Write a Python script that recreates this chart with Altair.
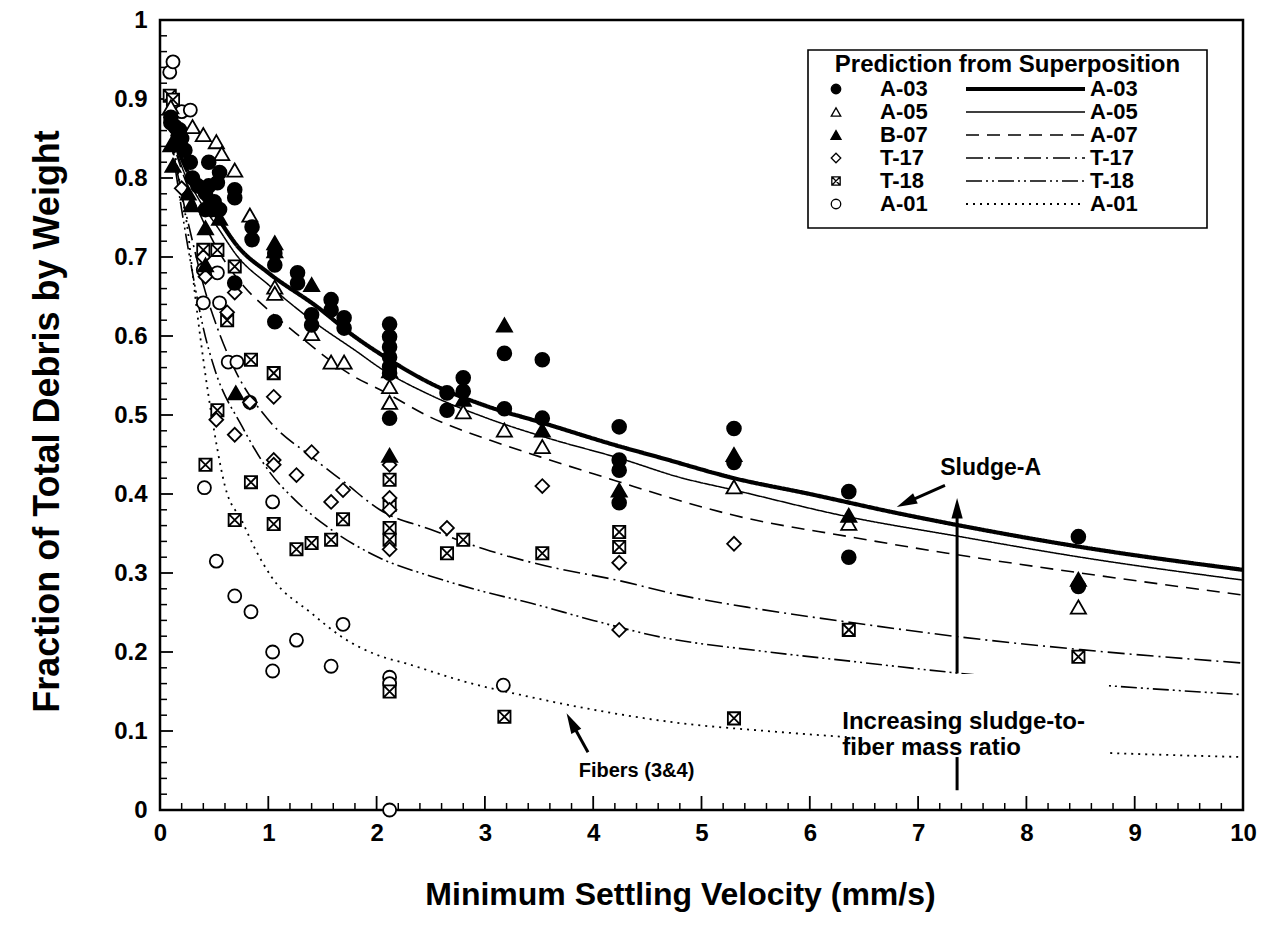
import altair as alt
import pandas as pd

FONT = "Liberation Sans"

a03_x = [0.10, 0.10, 0.14, 0.18, 0.20, 0.23, 0.28, 0.30, 0.35, 0.42, 0.42, 0.45, 0.45, 0.48, 0.50, 0.53, 0.55, 0.55,
         0.69, 0.69, 0.69, 0.85, 0.85, 1.06, 1.06, 1.06, 1.27, 1.27, 1.40, 1.40, 1.58, 1.58, 1.70, 1.70,
         2.12, 2.12, 2.12, 2.12, 2.12, 2.12, 2.12, 2.65, 2.65, 2.80, 2.80, 3.18, 3.18, 3.53, 3.53,
         4.24, 4.24, 4.24, 4.24, 5.30, 5.30, 6.36, 6.36, 8.48, 8.48]
a03_y = [0.877, 0.870, 0.865, 0.861, 0.850, 0.835, 0.820, 0.800, 0.790, 0.781, 0.760, 0.820, 0.790, 0.760, 0.770, 0.794, 0.807, 0.760,
         0.785, 0.775, 0.667, 0.738, 0.722, 0.705, 0.690, 0.618, 0.680, 0.667, 0.627, 0.614, 0.646, 0.633, 0.623, 0.610,
         0.615, 0.599, 0.586, 0.573, 0.561, 0.553, 0.496, 0.528, 0.506, 0.547, 0.530, 0.578, 0.508, 0.570, 0.496,
         0.485, 0.443, 0.430, 0.389, 0.483, 0.440, 0.403, 0.320, 0.346, 0.283]

a05_x = [0.10, 0.30, 0.40, 0.52, 0.57, 0.69, 0.83, 1.06, 1.06, 1.40, 1.58, 1.70, 2.12, 2.12, 2.80, 3.18, 3.53, 5.30, 6.36, 8.48]
a05_y = [0.890, 0.865, 0.855, 0.846, 0.831, 0.810, 0.753, 0.662, 0.654, 0.603, 0.567, 0.567, 0.536, 0.516, 0.504, 0.481, 0.460, 0.409, 0.363, 0.257]

b07_x = [0.10, 0.12, 0.26, 0.29, 0.42, 0.42, 0.55, 0.70, 1.06, 1.06, 1.40, 2.12, 2.12, 2.80, 3.18, 3.53, 4.24, 5.30, 6.36, 8.48]
b07_y = [0.842, 0.816, 0.781, 0.766, 0.737, 0.690, 0.749, 0.528, 0.718, 0.708, 0.665, 0.556, 0.449, 0.520, 0.614, 0.481, 0.405, 0.450, 0.373, 0.292]

t17_x = [0.20, 0.40, 0.42, 0.52, 0.62, 0.69, 0.69, 0.83, 1.05, 1.05, 1.05, 1.26, 1.40, 1.58, 1.69, 2.12, 2.12, 2.12, 2.12, 2.65, 3.53, 4.24, 4.24, 5.30]
t17_y = [0.787, 0.700, 0.675, 0.494, 0.630, 0.655, 0.475, 0.516, 0.523, 0.443, 0.437, 0.424, 0.453, 0.390, 0.405, 0.437, 0.395, 0.380, 0.330, 0.357, 0.410, 0.313, 0.228, 0.337]

t18_x = [0.09, 0.12, 0.40, 0.42, 0.53, 0.53, 0.62, 0.69, 0.69, 0.84, 0.84, 1.05, 1.05, 1.26, 1.40, 1.58, 1.69,
         2.12, 2.12, 2.12, 2.12, 2.12, 2.65, 2.80, 3.18, 3.53, 4.24, 4.24, 5.30, 6.36, 8.48]
t18_y = [0.904, 0.899, 0.709, 0.437, 0.709, 0.506, 0.620, 0.688, 0.367, 0.570, 0.415, 0.553, 0.362, 0.330, 0.338, 0.342, 0.368,
         0.418, 0.386, 0.357, 0.342, 0.150, 0.325, 0.342, 0.118, 0.325, 0.352, 0.333, 0.116, 0.228, 0.194]

a01_x = [0.09, 0.12, 0.20, 0.28, 0.40, 0.40, 0.41, 0.52, 0.53, 0.55, 0.63, 0.69, 0.71, 0.83, 0.84, 1.04, 1.04, 1.04, 1.26, 1.58, 1.69, 2.12, 2.12, 2.12, 3.17]
a01_y = [0.934, 0.947, 0.884, 0.886, 0.684, 0.642, 0.408, 0.315, 0.680, 0.642, 0.567, 0.271, 0.567, 0.516, 0.251, 0.390, 0.200, 0.176, 0.215, 0.182, 0.235, 0.168, 0.160, 0.000, 0.158]

# ---------------- prediction curves ----------------
c_a03_x = [0.1, 0.2, 0.35, 0.53, 0.72, 1.0, 1.45, 1.8, 2.06, 2.5, 3.0, 3.51, 4.25, 4.62, 5.3, 6.0, 6.8, 7.39, 8.5, 10]
c_a03_y = [0.865, 0.825, 0.785, 0.75, 0.713, 0.68, 0.637, 0.599, 0.575, 0.54, 0.512, 0.491, 0.46, 0.446, 0.42, 0.40, 0.376, 0.36, 0.333, 0.304]

c_a05_x = [0.1, 0.2, 0.35, 0.53, 0.72, 1.0, 1.45, 1.8, 2.06, 2.5, 3.0, 3.6, 4.25, 4.8, 5.3, 6.36, 7.39, 8.5, 10]
c_a05_y = [0.86, 0.815, 0.775, 0.738, 0.70, 0.665, 0.615, 0.582, 0.557, 0.525, 0.497, 0.47, 0.445, 0.421, 0.405, 0.371, 0.346, 0.32, 0.291]

c_a07_x = [0.1, 0.2, 0.35, 0.53, 0.78, 1.0, 1.25, 1.8, 2.06, 2.5, 3.05, 3.51, 4.25, 4.62, 5.3, 6.36, 7.27, 8.5, 10]
c_a07_y = [0.855, 0.81, 0.76, 0.71, 0.662, 0.633, 0.604, 0.548, 0.53, 0.497, 0.468, 0.447, 0.415, 0.399, 0.373, 0.346, 0.325, 0.30, 0.272]

c_t17_x = [0.1, 0.2, 0.3, 0.4, 0.53, 0.7, 1.0, 1.4, 1.71, 2.03, 2.5, 3.0, 3.5, 4.25, 4.8, 5.5, 6.4, 7.39, 8.5, 10]
c_t17_y = [0.85, 0.78, 0.72, 0.665, 0.61, 0.555, 0.494, 0.447, 0.414, 0.38, 0.355, 0.33, 0.311, 0.29, 0.272, 0.255, 0.237, 0.219, 0.203, 0.186]

c_t18_x = [0.1, 0.2, 0.3, 0.4, 0.5, 0.76, 1.0, 1.25, 1.55, 2.03, 2.5, 3.0, 3.42, 4.0, 4.62, 5.5, 6.4, 7.39, 8.5, 10]
c_t18_y = [0.85, 0.76, 0.68, 0.61, 0.56, 0.485, 0.43, 0.392, 0.358, 0.319, 0.296, 0.276, 0.262, 0.24, 0.219, 0.202, 0.188, 0.173, 0.16, 0.146]

c_a01_x = [0.1, 0.2, 0.26, 0.3, 0.4, 0.5, 0.6, 0.76, 0.88, 1.03, 1.4, 1.68, 2.03, 2.26, 2.8, 3.42, 4.0, 4.8, 5.6, 6.46, 7.5, 8.8, 10]
c_a01_y = [0.86, 0.78, 0.73, 0.68, 0.57, 0.48, 0.41, 0.365, 0.33, 0.295, 0.249, 0.219, 0.195, 0.186, 0.163, 0.143, 0.127, 0.11, 0.10, 0.091, 0.08, 0.072, 0.067]

marker_labels = ["A-03", "A-05", "B-07", "T-17", "T-18", "A-01"]
line_labels = ["A-03", "A-05", "A-07", "T-17", "T-18", "A-01"]
x_tick_values = list(range(0, 11))
y_tick_values = [round(0.1 * i, 1) for i in range(11)]

# ---------------- layout constants ----------------
W, H = 1083, 790
BOX_PATH = "M-1,-1L1,-1L1,1L-1,1Z M-1,-1L1,1 M-1,1L1,-1"
ARROW_PATH = "M0,-1L0.55,1L-0.55,1Z"

xscale = alt.Scale(domain=[0, 10], nice=False, zero=False)
yscale = alt.Scale(domain=[0, 1], nice=False, zero=False)
xaxis = alt.Axis(values=x_tick_values, title="Minimum Settling Velocity (mm/s)", grid=False, ticks=False, domain=False,
                 labelFont=FONT, labelFontSize=24, labelFontWeight="bold", labelColor="black", labelPadding=11,
                 labelFlush=False, labelOverlap=False,
                 titleFont=FONT, titleFontSize=32, titleFontWeight="bold", titleColor="black",
                 titleX=520, titleY=94, titleAlign="center", titleBaseline="alphabetic")
yaxis = alt.Axis(values=y_tick_values, title="Fraction of Total Debris by Weight", grid=False, ticks=False, domain=False,
                 labelExpr="datum.value == 0 ? '0' : datum.value == 1 ? '1' : format(datum.value, '.1f')",
                 labelFont=FONT, labelFontSize=24, labelFontWeight="bold", labelColor="black", labelPadding=13,
                 labelFlush=False, labelOverlap=False,
                 titleFont=FONT, titleFontSize=36, titleFontWeight="bold", titleColor="black",
                 titleX=-102, titleY=401, titleAlign="center", titleBaseline="alphabetic", titleAngle=270)


def X(f="x"):
    return alt.X(f + ":Q", scale=xscale, axis=xaxis)


def Y(f="y"):
    return alt.Y(f + ":Q", scale=yscale, axis=yaxis)


dummy = pd.DataFrame({"d": [0]})
layers = []

# inward ticks
xt = pd.DataFrame({"x": [round(0.2 * i, 1) for i in range(1, 50)]})
xt["major"] = (xt["x"] % 1 == 0)
layers.append(alt.Chart(xt[~xt["major"]]).mark_rule(color="black", strokeWidth=1.5).encode(
    x=X(), y=alt.value(H), y2=alt.value(H - 7)))
layers.append(alt.Chart(xt[xt["major"]]).mark_rule(color="black", strokeWidth=1.8).encode(
    x=X(), y=alt.value(H), y2=alt.value(H - 14)))
yt = pd.DataFrame({"y": [round(0.02 * i, 2) for i in range(1, 50)]})
yt["major"] = ((yt["y"] * 100).round() % 10 == 0)
layers.append(alt.Chart(yt[~yt["major"]]).mark_rule(color="black", strokeWidth=1.5).encode(
    y=Y(), x=alt.value(0), x2=alt.value(7)))
layers.append(alt.Chart(yt[yt["major"]]).mark_rule(color="black", strokeWidth=1.8).encode(
    y=Y(), x=alt.value(0), x2=alt.value(13)))

# curves
curves = [
    (c_a03_x, c_a03_y, [1, 0], 4.2),
    (c_a05_x, c_a05_y, [1, 0], 1.5),
    (c_a07_x, c_a07_y, [13, 8], 1.6),
    (c_t17_x, c_t17_y, [17, 5, 2, 5], 1.6),
    (c_t18_x, c_t18_y, [16, 4, 2, 4, 2, 4], 1.6),
    (c_a01_x, c_a01_y, [2, 5], 1.8),
]
for cx, cy, dash, sw in curves:
    df = pd.DataFrame({"x": cx, "y": cy})
    layers.append(alt.Chart(df).mark_line(color="black", strokeWidth=sw, strokeDash=dash, interpolate="monotone").encode(
        x=X(), y=Y()))

# white patch behind the annotation text (lines are interrupted there)
patch = pd.DataFrame({"x": [6.46], "x2": [8.76], "y": [0.052], "y2": [0.172]})
layers.append(alt.Chart(patch).mark_rect(color="white").encode(
    x=X(), x2=alt.X2("x2:Q"), y=Y(), y2=alt.Y2("y2:Q")))

# points
pts = [
    (a01_x, a01_y, "circle", False, 170),
    (t18_x, t18_y, BOX_PATH, False, 150),
    (t17_x, t17_y, "diamond", False, 190),
    (a05_x, a05_y, "triangle-up", False, 230),
    (b07_x, b07_y, "triangle-up", True, 230),
    (a03_x, a03_y, "circle", True, 190),
]
for px, py, shape, filled, size in pts:
    df = pd.DataFrame({"x": px, "y": py})
    layers.append(alt.Chart(df).mark_point(shape=shape, filled=True, fill="black" if filled else "white",
                                           fillOpacity=1, opacity=1, stroke="black", strokeWidth=1.8,
                                           size=size).encode(x=X(), y=Y()))

# annotations
arrows = pd.DataFrame({
    "x": [7.248, 7.36, 3.952, 7.36],
    "y": [0.411, 0.173, 0.073, 0.067],
    "x2": [6.889, 7.36, 3.799, 7.36],
    "y2": [0.389, 0.382, 0.111, 0.025],
})
layers.append(alt.Chart(arrows).mark_rule(color="black", strokeWidth=3).encode(
    x=X(), y=Y(), x2=alt.X2("x2:Q"), y2=alt.Y2("y2:Q")))
heads = pd.DataFrame({"x": [6.889, 7.36, 3.799], "y": [0.389, 0.382, 0.111], "a": [245.4, 0, 331.7]})
layers.append(alt.Chart(heads).mark_point(shape=ARROW_PATH, filled=True, color="black", size=420, opacity=1).encode(
    x=X(), y=Y(), angle=alt.Angle("a:Q", scale=None)))

texts = pd.DataFrame({
    "x": [7.67, 6.30, 6.30, 4.40],
    "y": [0.433, 0.112, 0.079, 0.049],
    "t": ["Sludge-A", "Increasing sludge-to-", "fiber mass ratio", "Fibers (3&4)"],
    "fs": [23, 24, 24, 20],
    "al": ["center", "left", "left", "center"],
})
for i in range(len(texts)):
    sub = texts.iloc[[i]]
    layers.append(alt.Chart(sub).mark_text(font=FONT, fontSize=int(sub["fs"].iloc[0]), fontWeight="bold",
                                           color="black", align=sub["al"].iloc[0], baseline="middle").encode(
        x=X(), y=Y(), text="t:N"))

# legend (decoration, pixel positions inside the plot)
LX0, LX1, LY0, LY1 = 648, 1047, 30, 208
layers.append(alt.Chart(dummy).mark_rect(fill="white", stroke="black", strokeWidth=1.6).encode(
    x=alt.value(LX0), x2=alt.value(LX1), y=alt.value(LY0), y2=alt.value(LY1)))
layers.append(alt.Chart(dummy).mark_text(text="Prediction from Superposition", font=FONT, fontSize=24,
                                         fontWeight="bold", color="black", align="center", baseline="middle").encode(
    x=alt.value((LX0 + LX1) / 2), y=alt.value(45)))
leg_shapes = [("circle", True, 90), ("triangle-up", False, 90), ("triangle-up", True, 100),
              ("diamond", False, 90), (BOX_PATH, False, 70), ("circle", False, 90)]
for i in range(6):
    ly = 69 + 23 * i
    shape, filled, size = leg_shapes[i]
    layers.append(alt.Chart(dummy).mark_point(shape=shape, filled=True, fill="black" if filled else "white",
                                              stroke="black", strokeWidth=1.3, size=size, opacity=1).encode(
        x=alt.value(676), y=alt.value(ly)))
    layers.append(alt.Chart(dummy).mark_text(text=marker_labels[i], font=FONT, fontSize=22, fontWeight="bold",
                                             color="black", align="left", baseline="middle").encode(
        x=alt.value(720), y=alt.value(ly)))
    _, _, dash, sw = curves[i]
    layers.append(alt.Chart(dummy).mark_rule(color="black", strokeWidth=sw, strokeDash=dash).encode(
        x=alt.value(806), x2=alt.value(925), y=alt.value(ly), y2=alt.value(ly)))
    layers.append(alt.Chart(dummy).mark_text(text=line_labels[i], font=FONT, fontSize=22, fontWeight="bold",
                                             color="black", align="left", baseline="middle").encode(
        x=alt.value(930), y=alt.value(ly)))

chart = alt.layer(*layers).properties(
    width=W, height=H,
    autosize=alt.AutoSizeParams(type="none"),
    padding={"left": 152, "top": 12, "right": 15, "bottom": 108},
    background="white",
).configure_view(stroke="black", strokeWidth=2.5)

chart.save("out.html", embed_options={"renderer": "svg", "actions": False})
